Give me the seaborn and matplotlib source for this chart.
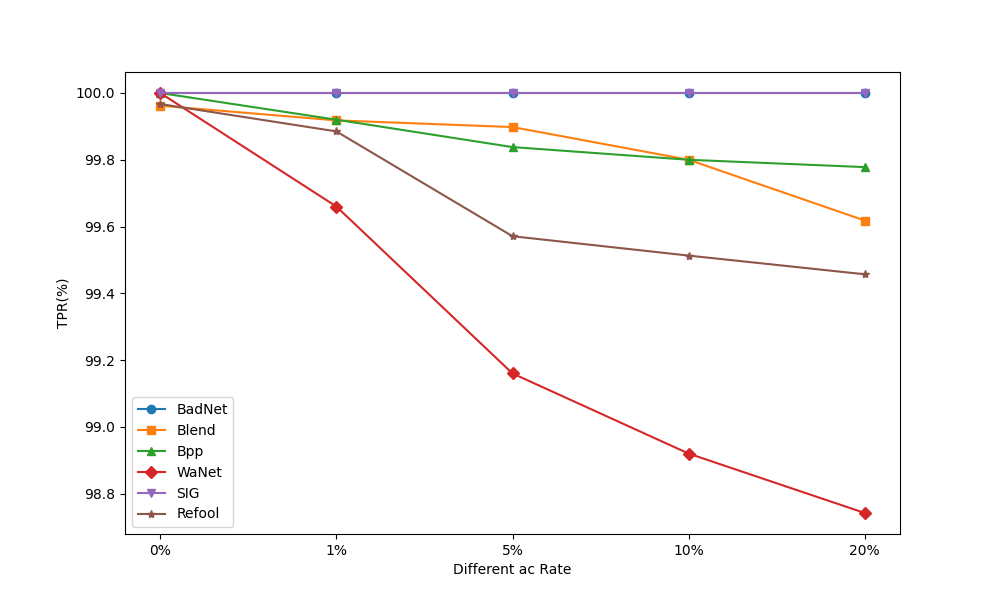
import pandas as pd
import matplotlib
matplotlib.use("Agg")
import matplotlib.pyplot as plt
import seaborn as sns

# Poisoning rates on the x axis
rates = ['0%', '1%', '5%', '10%', '20%']

# TPR (%) per attack
badnet = [100.0, 100.0, 100.0, 100.0, 100.0]
blend = [99.962, 99.918, 99.898, 99.80, 99.618]
bpp = [100.0, 99.92, 99.838, 99.80, 99.778]
wanet = [100.0, 99.66, 99.16, 98.92, 98.742]
sig = [100.0, 100.0, 100.0, 100.0, 100.0]
refool = [99.967, 99.885, 99.571, 99.513, 99.457]

series = {
    'BadNet': badnet,
    'Blend': blend,
    'Bpp': bpp,
    'WaNet': wanet,
    'SIG': sig,
    'Refool': refool,
}
markers = ['o', 's', '^', 'D', 'v', '*']
colors = ['#1f77b4', '#ff7f0e', '#2ca02c', '#d62728', '#9467bd', '#8c564b']

fig, ax = plt.subplots(figsize=(10, 6), dpi=100)

for (name, vals), m, c in zip(series.items(), markers, colors):
    df = pd.DataFrame({'pos': range(len(rates)), 'tpr': vals})
    sns.lineplot(data=df, x='pos', y='tpr', ax=ax, label=name, color=c,
                 marker=m, markersize=6, markeredgecolor=c, markeredgewidth=1)

ax.set_xticks(range(len(rates)))
ax.set_xticklabels(rates)
ax.set_xlabel('Different ac Rate')
ax.set_ylabel('TPR(%)')
ax.legend(loc='lower left')

fig.savefig('out.png')
